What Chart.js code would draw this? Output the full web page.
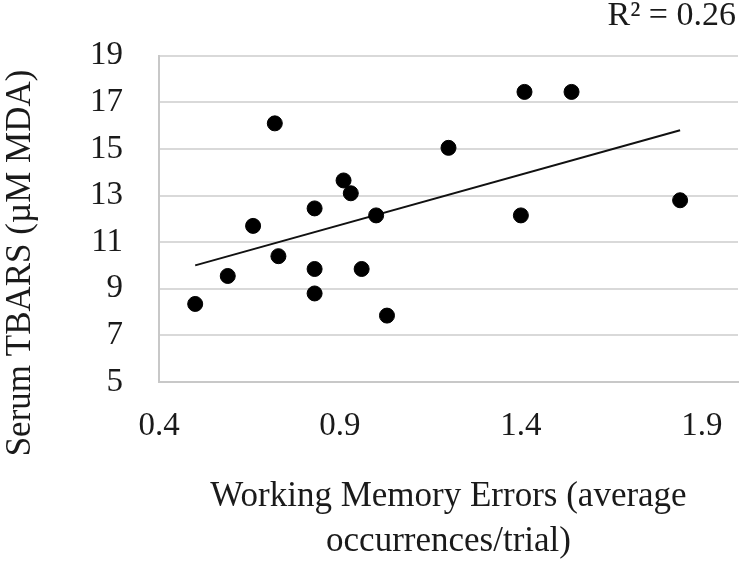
<!DOCTYPE html>
<html>
<head>
<meta charset="utf-8">
<script src="https://cdn.jsdelivr.net/npm/chart.js@4/dist/chart.umd.min.js"></script>
<style>
    body { margin: 0; background: #fff; }
    canvas { display: block; }
</style>
</head>
<body>
<canvas id="scatterChart" width="755" height="568"></canvas>
<script>
// working memory errors (x) vs serum TBARS (y)
const memoryErrors = [0.50, 0.59, 0.66, 0.72, 0.73, 0.83, 0.83, 0.83, 0.91, 0.93, 1.00, 0.96, 1.03, 1.20, 1.40, 1.41, 1.54, 1.84];
const serumTbars = [8.35, 9.55, 11.7, 16.1, 10.4, 12.45, 9.85, 8.8, 13.65, 13.1, 12.15, 9.85, 7.85, 15.05, 12.15, 17.45, 17.45, 12.8];
const xTickValues = [0.4, 0.9, 1.4, 1.9];
const yTickValues = [5, 7, 9, 11, 13, 15, 17, 19];
const rSquaredLabel = "R\u00b2 = 0.26";

const FONT = "'Liberation Serif', 'Times New Roman', serif";
const TEXT = "#1a1a1a";

window.onload = function () {
    const points = memoryErrors.map((x, i) => ({ x: x, y: serumTbars[i] }));

    // least squares trend line over the data range
    const n = points.length;
    const mx = memoryErrors.reduce((a, b) => a + b, 0) / n;
    const my = serumTbars.reduce((a, b) => a + b, 0) / n;
    let sxy = 0, sxx = 0;
    points.forEach(p => {
        sxy += (p.x - mx) * (p.y - my);
        sxx += (p.x - mx) * (p.x - mx);
    });
    const slope = sxy / sxx;
    const icpt = my - slope * mx;
    const xMin = Math.min(...memoryErrors);
    const xMax = Math.max(...memoryErrors);
    const trend = [
        { x: xMin, y: icpt + slope * xMin },
        { x: xMax, y: icpt + slope * xMax },
    ];

    // y title and R² note drawn by hand so they sit where the figure has them
    const notes = {
        id: "notes",
        afterDraw(chart) {
            const ctx = chart.ctx;
            ctx.save();
            ctx.fillStyle = TEXT;
            ctx.font = "34px " + FONT;
            ctx.textAlign = "right";
            ctx.textBaseline = "middle";
            ctx.fillText(rSquaredLabel, 736, 16);

            ctx.font = "35px " + FONT;
            ctx.translate(21, 263);
            ctx.rotate(-Math.PI / 2);
            ctx.textAlign = "center";
            ctx.fillText("Serum TBARS (\u00b5M MDA)", 0, 0);
            ctx.restore();
        },
    };

    const config = {
        type: "scatter",
        data: {
            datasets: [
                {
                    label: "Samples",
                    data: points,
                    backgroundColor: "#000",
                    borderColor: "#000",
                    pointRadius: 7.5,
                    pointHoverRadius: 7.5,
                },
                {
                    label: "Trend",
                    type: "line",
                    data: trend,
                    borderColor: "#111",
                    borderWidth: 2,
                    pointRadius: 0,
                    fill: false,
                },
            ],
        },
        options: {
            responsive: false,
            animation: false,
            layout: {
                padding: { top: 53, right: 17, left: 0, bottom: 0 },
            },
            plugins: {
                legend: { display: false },
                tooltip: { enabled: false },
            },
            scales: {
                x: {
                    type: "linear",
                    min: 0.4,
                    max: 2.0,
                    afterBuildTicks: s => { s.ticks = xTickValues.map(v => ({ value: v })); },
                    afterFit: s => { s.height = 186; },
                    grid: { display: false, drawTicks: false },
                    border: { display: true, color: "#c8c8c8", width: 2 },
                    ticks: {
                        padding: 25,
                        color: TEXT,
                        font: { family: FONT, size: 33 },
                        maxRotation: 0,
                        callback: v => v.toFixed(1),
                    },
                    title: {
                        display: true,
                        text: ["Working Memory Errors (average", "occurrences/trial)"],
                        color: TEXT,
                        font: { family: FONT, size: 35, lineHeight: 1.3 },
                        padding: { top: 0, bottom: 3 },
                    },
                },
                y: {
                    type: "linear",
                    min: 5,
                    max: 19,
                    afterBuildTicks: s => { s.ticks = yTickValues.map(v => ({ value: v })); },
                    afterFit: s => { s.width = 159; },
                    grid: { color: "#d9d9d9", lineWidth: 2, drawTicks: false },
                    border: { display: true, color: "#c8c8c8", width: 2 },
                    ticks: {
                        padding: 36,
                        color: TEXT,
                        font: { family: FONT, size: 33 },
                    },
                },
            },
        },
        plugins: [notes],
    };

    const ctx = document.getElementById("scatterChart")?.getContext("2d");
    if (ctx) {
        new Chart(ctx, config);
    } else {
        console.error("No canvas with id='scatterChart'");
    }
};
</script>
</body>
</html>
